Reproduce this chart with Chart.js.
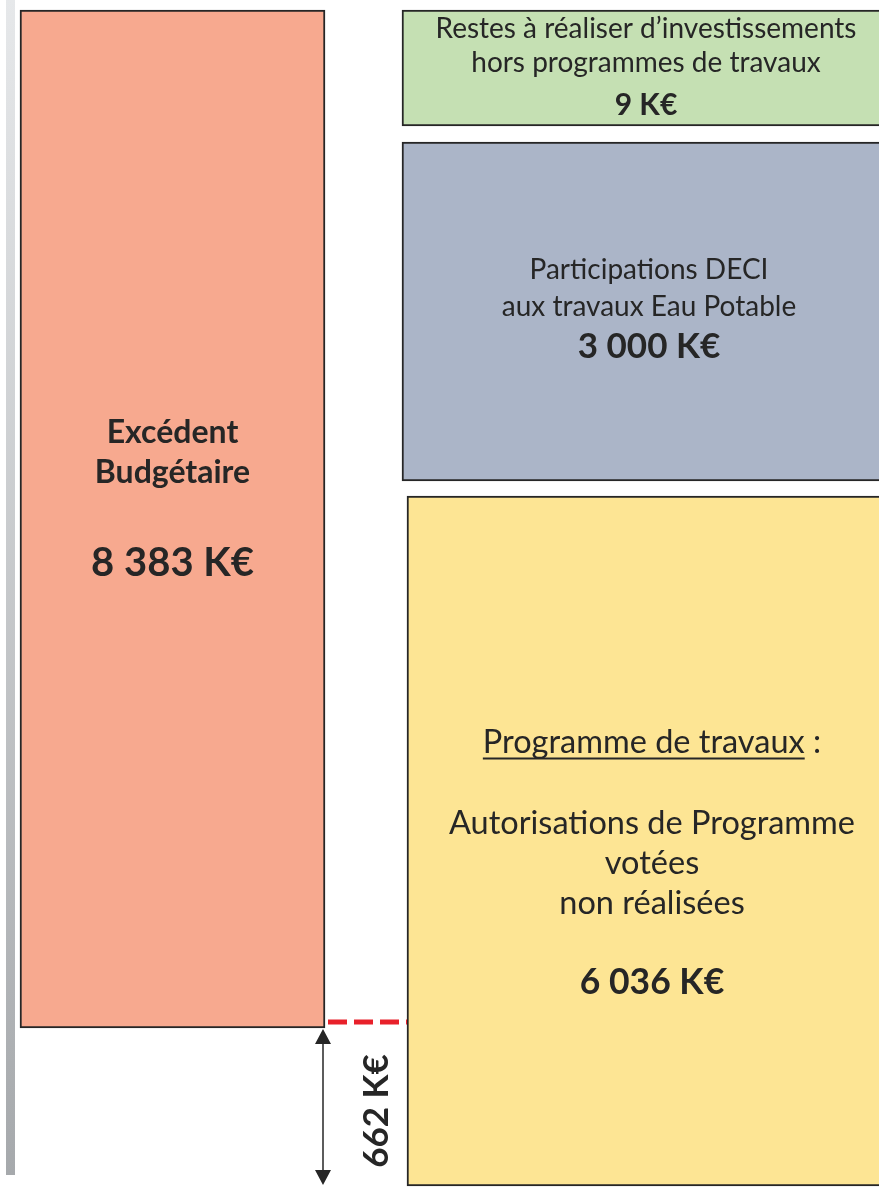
<!DOCTYPE html>
<html>
<head>
<meta charset="utf-8">
<script src="https://cdn.jsdelivr.net/npm/chart.js@4.4.1/dist/chart.umd.min.js"></script>
<style>
html, body { margin: 0; padding: 0; background: #ffffff; }
#chart { display: block; }
</style>
</head>
<body>
<canvas id="chart" width="879" height="1187"></canvas>
<script>
// two columns: what the surplus covers / what it has to finance
const columns = ["Ressources", "Besoins"];

const boxNames = [
    "Excédent\nBudgétaire",
    "Programme de travaux :\n\nAutorisations de Programme\nvotées\nnon réalisées",
    "Participations DECI\naux travaux Eau Potable",
    "Restes à réaliser d’investissements\nhors programmes de travaux"
];

const boxValues = [8383, 6036, 3000, 9];

const boxColumn = [0, 1, 1, 1];

const gapValue = 662;

// layout of the schematic (not proportional): pixel band of every box
const W = 879;
const H = 1187;
const boxBands = [[10, 1028], [496, 1186], [142, 481], [10, 126]];
const boxWidths = [305, 490, 500, 500];
const columnCenters = [172.5, 652];
const boxColors = ["#f7a98f", "#fde594", "#abb5c8", "#c5e0b3"];
const ink = "#262626";

const labelStyles = [
    { size: 32, bold: true, lines: [-76.5, -36.5], valueSize: 40, valueDy: 56.5, dx: 0 },
    { size: 32.5, bold: false, lines: [-88.5, 0, -7.5, 32.5, 72.5], valueSize: 35.5, valueDy: 152.5, dx: 0, underline: true },
    { size: 28, bold: false, lines: [-33, 4], valueSize: 35, valueDy: 46, dx: -3 },
    { size: 28, bold: false, lines: [-30, 4], valueSize: 30, valueDy: 47, dx: -6 }
];

function formatKE(v)
{
    return String(v).replace(/\B(?=(\d{3})+(?!\d))/g, " ") + " K€";
}

// linear axis whose range puts 0..value on the given pixel band
function bandAxis(value, band)
{
    const perPx = value / (band[1] - band[0]);

    return {
        type: "linear",
        display: false,
        min: -(H - band[1]) * perPx,
        max: value + band[0] * perPx
    };
}

const scales =
{
    x: { type: "category", display: false, offset: false }
};

boxValues.forEach((v, i) =>
{
    scales["y" + i] = bandAxis(v, boxBands[i]);
});

const datasets = boxValues.map((v, i) => (
{
    label: boxNames[i].replace(/\n+/g, " "),
    data: columns.map((c, j) => j === boxColumn[i] ? [0, v] : null),
    yAxisID: "y" + i,
    backgroundColor: boxColors[i],
    borderColor: ink,
    borderWidth: 2,
    borderSkipped: false,
    barThickness: boxWidths[i],
    grouped: false,
    clip: false
}));

const pageEdge =
{
    id: "pageEdge",
    beforeDraw(chart)
    {
        const ctx = chart.ctx;
        const grad = ctx.createLinearGradient(0, 0, 0, 1175);
        grad.addColorStop(0, "#e6e8ea");
        grad.addColorStop(1, "#a6a9ac");
        ctx.save();
        ctx.fillStyle = grad;
        ctx.fillRect(6, 0, 9, 1175);
        ctx.restore();
    }
};

const boxLabels =
{
    id: "boxLabels",
    afterDatasetsDraw(chart)
    {
        const ctx = chart.ctx;

        ctx.save();
        ctx.fillStyle = ink;
        ctx.textAlign = "center";
        ctx.textBaseline = "alphabetic";

        boxValues.forEach((v, i) =>
        {
            const bar = chart.getDatasetMeta(i).data[boxColumn[i]];
            const style = labelStyles[i];
            const cx = bar.x + style.dx;
            const cy = (bar.y + bar.base) / 2;

            ctx.font = (style.bold ? "bold " : "") + style.size + "px Lato";

            boxNames[i].split("\n").forEach((line, k) =>
            {
                if(!line)
                {
                    return;
                }

                const by = cy + style.lines[k];
                ctx.fillText(line, cx, by);

                if(style.underline && k === 0)
                {
                    const full = ctx.measureText(line).width;
                    const part = ctx.measureText(line.replace(/\s*:$/, "")).width;
                    ctx.fillRect(cx - full / 2, by + 5, part, 2);
                }
            });

            ctx.font = "bold " + style.valueSize + "px Lato";
            ctx.fillText(formatKE(v), cx, cy + style.valueDy);
        });

        // gap between the surplus and what it has to cover
        const left = chart.getDatasetMeta(0).data[0];
        const works = chart.getDatasetMeta(1).data[1];
        const top = left.base;
        const bottom = works.base;
        const ax = left.x + left.width / 2 - 2;

        ctx.strokeStyle = "#e8202a";
        ctx.lineWidth = 5;
        ctx.setLineDash([19, 7]);
        ctx.beginPath();
        ctx.moveTo(ax + 5, top - 6);
        ctx.lineTo(works.x - works.width / 2, top - 6);
        ctx.stroke();

        ctx.setLineDash([]);
        ctx.strokeStyle = ink;
        ctx.lineWidth = 1.5;
        ctx.beginPath();
        ctx.moveTo(ax, top + 8);
        ctx.lineTo(ax, bottom - 8);
        ctx.stroke();

        ctx.beginPath();
        ctx.moveTo(ax, top + 1);
        ctx.lineTo(ax - 8, top + 16);
        ctx.lineTo(ax + 8, top + 16);
        ctx.closePath();
        ctx.moveTo(ax, bottom - 1);
        ctx.lineTo(ax - 8, bottom - 16);
        ctx.lineTo(ax + 8, bottom - 16);
        ctx.closePath();
        ctx.fill();

        ctx.translate(ax + 65, (top + bottom) / 2 + 4);
        ctx.rotate(-Math.PI / 2);
        ctx.font = "bold 35px Lato";
        ctx.fillText(formatKE(gapValue), 0, 0);

        ctx.restore();
    }
};

new Chart(
    document.getElementById("chart"),
    {
        type: "bar",
        data:
        {
            labels: columns,
            datasets
        },
        options:
        {
            responsive: false,
            animation: false,
            layout:
            {
                padding: { left: columnCenters[0], right: W - columnCenters[1], top: 0, bottom: 0 }
            },
            plugins:
            {
                legend: { display: false },
                tooltip: { enabled: false }
            },
            scales
        },
        plugins: [pageEdge, boxLabels]
    }
);
</script>
</body>
</html>
